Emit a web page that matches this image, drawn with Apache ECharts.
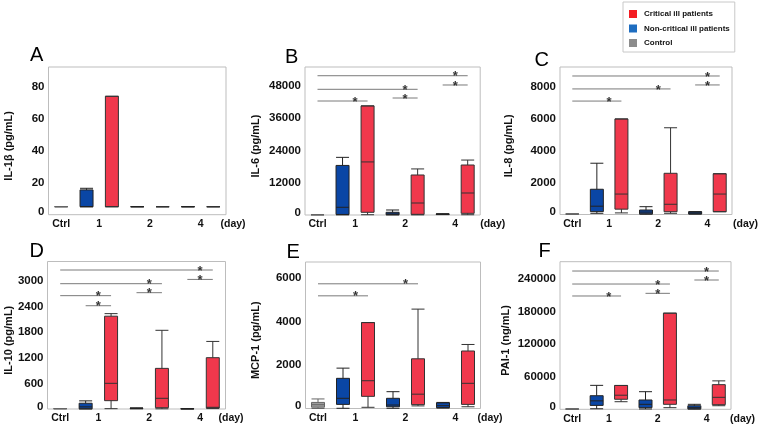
<!DOCTYPE html>
<html><head><meta charset="utf-8">
<script src="https://cdn.jsdelivr.net/npm/echarts@6/dist/echarts.min.js"></script>
<style>html,body{margin:0;padding:0;background:#fff}#c{width:760px;height:429px}</style>
</head><body><div id="c"></div>
<script>
// ---------- categories ----------
const slots = ['Ctrl', '1-N', '1-C', '2-N', '2-C', '4-N', '4-C'];
const groupLabels = ['Ctrl', '1', '2', '4'];
const groupSlots = [[0], [1, 2], [3, 4], [5, 6]];
const legendNames = ['Critical ill patients', 'Non-critical ill patients', 'Control'];
const panelLetters = ['A', 'B', 'C', 'D', 'E', 'F'];
const axisNames = ['IL-1\u03b2 (pg/mL)', 'IL-6 (pg/mL)', 'IL-8 (pg/mL)', 'IL-10 (pg/mL)', 'MCP-1 (pg/mL)', 'PAI-1 (ng/mL)'];

// ---------- data: [min, Q1, median, Q3, max]; days 1, 2, 4 ----------
const il1bCtrl = [5, 5, 5, 5, 5];
const il1bNon = [[5, 5, 5, 15.5, 16.5], [5, 5, 5, 5, 5], [5, 5, 5, 5, 5]];
const il1bCrit = [[5, 5, 5, 74, 74], [5, 5, 5, 5, 5], [5, 5, 5, 5, 5]];
const il1bTicks = [0, 20, 40, 60, 80];
const il1bSig = [];

const il6Ctrl = [100, 100, 100, 100, 100];
const il6Non = [[50, 200, 2860, 18400, 21400], [50, 100, 400, 1000, 1860], [150, 200, 300, 400, 450]];
const il6Crit = [[100, 1000, 19700, 40500, 40500], [50, 250, 4450, 14850, 17100], [100, 620, 8170, 18560, 20400]];
const il6Ticks = [0, 12000, 24000, 36000, 48000];
const il6Sig = [[0, 6, 51700], [0, 4, 46660], [0, 2, 42320], [3, 4, 43430], [5, 6, 48260]];

const il8Ctrl = [30, 30, 30, 30, 30];
const il8Non = [[75, 180, 520, 1580, 3210], [20, 40, 150, 280, 490], [30, 30, 100, 175, 175]];
const il8Crit = [[100, 335, 1280, 5980, 5980], [75, 175, 640, 2580, 5430], [175, 175, 1280, 2550, 2550]];
const il8Ticks = [0, 2000, 4000, 6000, 8000];
const il8Sig = [[0, 6, 8670], [0, 4, 7860], [0, 2, 7100], [5, 6, 8110]];

const il10Ctrl = [8, 8, 8, 8, 8];
const il10Non = [[0, 5, 50, 135, 190], [5, 10, 15, 20, 25], [3, 3, 5, 8, 8]];
const il10Crit = [[8, 195, 600, 2170, 2230], [5, 30, 250, 950, 1840], [10, 25, 40, 1200, 1580]];
const il10Ticks = [0, 600, 1200, 1800, 2400, 3000];
const il10Sig = [[0, 6, 3250], [0, 4, 2930], [0, 2, 2650], [1, 2, 2415], [3, 4, 2720], [5, 6, 3030]];

const mcp1Ctrl = [0, 60, 175, 280, 440];
const mcp1Non = [[10, 190, 470, 1390, 1860], [10, 80, 160, 470, 775], [20, 40, 130, 260, 280]];
const mcp1Crit = [[55, 560, 1280, 3960, 3960], [120, 180, 660, 2290, 4580], [80, 190, 1160, 2650, 2950]];
const mcp1Ticks = [0, 2000, 4000, 6000];
const mcp1Sig = [[0, 4, 5746], [0, 2, 5192]];

const pai1Ctrl = [500, 500, 500, 500, 500];
const pai1Non = [[1000, 7200, 15600, 25100, 44200], [600, 3000, 9200, 17200, 32500], [400, 800, 3000, 6600, 9200]];
const pai1Crit = [[14000, 18500, 26000, 44000, 44000], [3000, 9200, 17200, 177500, 177500], [6600, 8500, 22100, 45500, 52500]];
const pai1Ticks = [0, 60000, 120000, 180000, 240000];
const pai1Sig = [[0, 6, 255300], [0, 4, 231300], [0, 2, 209200], [3, 4, 214100], [5, 6, 238700]];

const panels = [
  { ctrl: il1bCtrl, non: il1bNon, crit: il1bCrit, ticks: il1bTicks, sig: il1bSig },
  { ctrl: il6Ctrl, non: il6Non, crit: il6Crit, ticks: il6Ticks, sig: il6Sig },
  { ctrl: il8Ctrl, non: il8Non, crit: il8Crit, ticks: il8Ticks, sig: il8Sig },
  { ctrl: il10Ctrl, non: il10Non, crit: il10Crit, ticks: il10Ticks, sig: il10Sig },
  { ctrl: mcp1Ctrl, non: mcp1Non, crit: mcp1Crit, ticks: mcp1Ticks, sig: mcp1Sig },
  { ctrl: pai1Ctrl, non: pai1Non, crit: pai1Crit, ticks: pai1Ticks, sig: pai1Sig }
];

// ---------- layout / style ----------
const layout = [
  { left: 48.5, top: 67, width: 177.5, height: 147.7, max: 92.3, nameGap: 34, dayGap: -5.5, tl: [30, 45.8] },
  { left: 305, top: 67, width: 175.2, height: 148, max: 54942, nameGap: 44, dayGap: 0, tl: [285, 47] },
  { left: 560, top: 67, width: 172, height: 147.5, max: 9233, nameGap: 45.5, dayGap: 1, tl: [534.5, 50] },
  { left: 47.5, top: 261.5, width: 178, height: 147.5, max: 3449, nameGap: 33, dayGap: -7, tl: [29.5, 241.7] },
  { left: 305.5, top: 262, width: 175, height: 146.5, max: 6751, nameGap: 44.5, dayGap: -3, tl: [286.6, 242] },
  { left: 560, top: 261.7, width: 171, height: 147.6, max: 272500, nameGap: 49, dayGap: -1, tl: [538.6, 241.7] }
];
const FONT = '"Liberation Sans", Arial, sans-serif';
const RED = '#f0384c', BLUE = '#0a46a5', GRAY = '#9b9b9b';
const LEG_COLORS = ['#f41c22', '#1e6dc0', '#8c8c8c'];

const groupPos = groupSlots.map(s => s.reduce((a, b) => a + b, 0) / s.length);

const option = {
  animation: false,
  backgroundColor: '#fff',
  textStyle: { fontFamily: FONT },
  title: [], grid: [], xAxis: [], yAxis: [], series: [],
  legend: {
    orient: 'vertical', left: 623, top: 2, padding: [8, 5, 5, 6],
    itemWidth: 8, itemHeight: 8, itemGap: 6.5, icon: 'rect',
    borderColor: '#c8c8c8', borderWidth: 1, selectedMode: false,
    textStyle: { fontSize: 8, fontWeight: 'bold', fontFamily: FONT, color: '#111', lineHeight: 8, padding: [0, 0, 0, 2] },
    data: legendNames
  }
};

legendNames.forEach((n, k) => {
  option.series.push({ type: 'bar', name: n, data: [], xAxisIndex: 0, yAxisIndex: 0, itemStyle: { color: LEG_COLORS[k] } });
});

panels.forEach((p, i) => {
  const L = layout[i];
  option.title.push({
    text: panelLetters[i], left: L.tl[0], top: L.tl[1], padding: 0,
    textStyle: { fontSize: 20, fontWeight: 'normal', color: '#000', fontFamily: FONT, lineHeight: 20 }
  });
  option.grid.push({
    left: L.left, top: L.top, width: L.width, height: L.height,
    show: true, borderColor: '#bdbdbd', borderWidth: 1, backgroundColor: 'transparent',
    containLabel: false, outerBoundsMode: 'none'
  });
  option.xAxis.push({
    type: 'category', gridIndex: i, data: slots, position: 'bottom',
    axisLine: { show: false }, axisTick: { show: false }, axisLabel: { show: false }, splitLine: { show: false }
  });
  option.xAxis.push({
    type: 'value', gridIndex: i, min: -0.5, max: slots.length - 0.5, position: 'bottom',
    axisLine: { show: false }, axisTick: { show: false }, splitLine: { show: false },
    axisLabel: {
      customValues: groupPos, margin: 4, fontSize: 10.5, fontWeight: 'bold', color: '#111', fontFamily: FONT,
      formatter: v => { const k = groupPos.findIndex(g => Math.abs(g - v) < 1e-6); return k >= 0 ? groupLabels[k] : ''; }
    },
    name: '(day)', nameLocation: 'end', nameGap: L.dayGap,
    nameTextStyle: { fontSize: 10.5, fontWeight: 'bold', color: '#111', fontFamily: FONT, verticalAlign: 'top', align: 'left', padding: [4, 0, 0, 0] }
  });
  option.yAxis.push({
    type: 'value', gridIndex: i, min: 0, max: L.max,
    axisLine: { show: false }, axisTick: { show: false }, splitLine: { show: false },
    axisLabel: {
      customValues: p.ticks, margin: 4, fontSize: 11.5, fontWeight: 'bold', color: '#111', fontFamily: FONT,
      formatter: v => v === 0 ? '{z|0}' : String(v),
      rich: { z: { fontSize: 11.5, fontWeight: 'bold', color: '#111', fontFamily: FONT, padding: [0, 0, 5, 0] } }
    },
    name: axisNames[i], nameLocation: 'middle', nameGap: L.nameGap,
    nameTextStyle: { fontSize: 11, fontWeight: 'bold', color: '#111', fontFamily: FONT, padding: [0, 10, 0, 0] }
  });

  const boxes = [{ value: p.ctrl, itemStyle: { color: GRAY, borderColor: '#666' } }];
  for (let d = 0; d < 3; d++) {
    boxes.push({ value: p.non[d], itemStyle: { color: BLUE, borderColor: '#222' } });
    boxes.push({ value: p.crit[d], itemStyle: { color: RED, borderColor: '#333' } });
  }
  option.series.push({
    type: 'boxplot', xAxisIndex: 2 * i, yAxisIndex: i, boxWidth: [13, 13],
    itemStyle: { borderWidth: 1 }, silent: true, emphasis: { disabled: true }, data: boxes, z: 2
  });

  p.sig.forEach(s => {
    option.series.push({
      type: 'line', xAxisIndex: 2 * i + 1, yAxisIndex: i, symbol: 'none', silent: true, z: 3,
      lineStyle: { color: '#7a7a7a', width: 1 }, data: [[s[0], s[2]], [s[1], s[2]]]
    });
  });
  if (p.sig.length) {
    option.series.push({
      type: 'scatter', xAxisIndex: 2 * i + 1, yAxisIndex: i, silent: true, z: 4,
      symbolSize: 1, itemStyle: { color: 'rgba(0,0,0,0)' },
      label: { show: true, formatter: '*', position: 'inside', offset: [0, 1], fontSize: 13, fontWeight: 'bold', color: '#000', fontFamily: FONT },
      data: p.sig.map(s => [s[1] - 0.5, s[2]])
    });
  }
});

const chart = echarts.init(document.getElementById('c'), null, { renderer: 'canvas' });
chart.setOption(option);
</script>
</body></html>
